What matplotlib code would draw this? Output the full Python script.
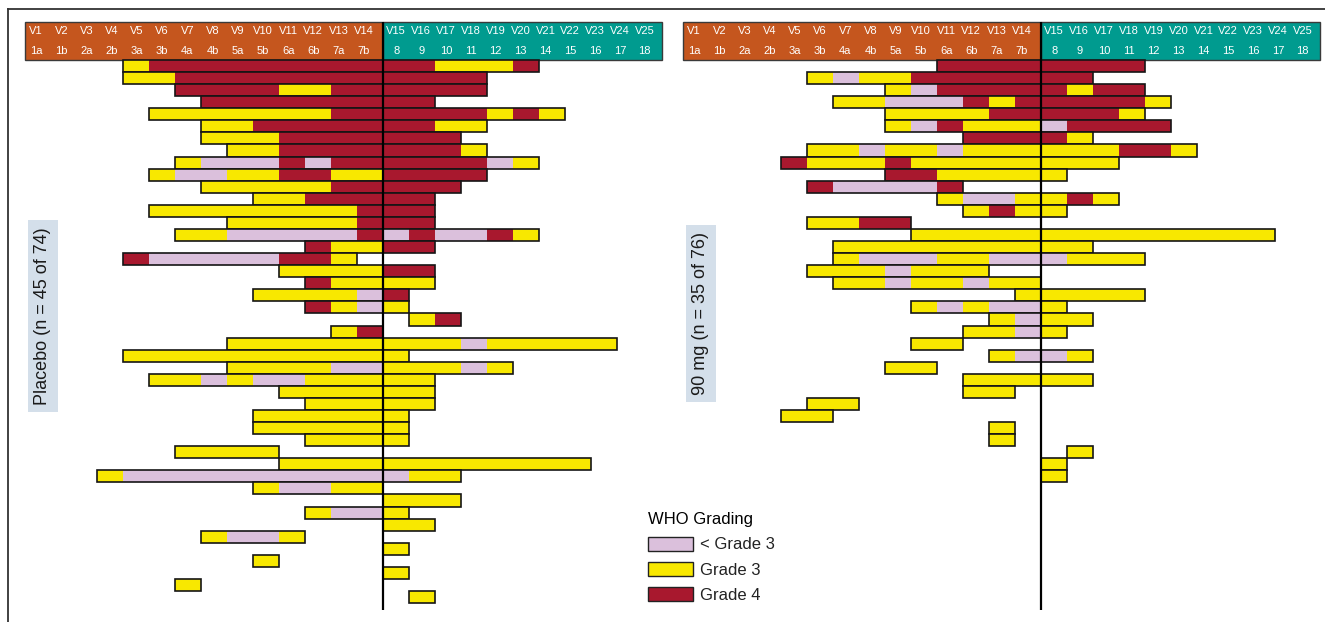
import numpy as np
import matplotlib
matplotlib.use("Agg")
import matplotlib.pyplot as plt
from matplotlib.patches import Rectangle, Patch
from matplotlib.lines import Line2D

plt.rcParams['font.family'] = ['Liberation Sans', 'DejaVu Sans']

# header labels
visits = ['V%d' % i for i in range(1, 26)]
cycles = ['1a', '1b', '2a', '2b', '3a', '3b', '4a', '4b', '5a', '5b', '6a', '6b', '7a', '7b',
          '8', '9', '10', '11', '12', '13', '14', '15', '16', '17', '18']

# WHO grade: 2 = < grade 3, 3 = grade 3, 4 = grade 4
grade_names = {2: '< Grade 3', 3: 'Grade 3', 4: 'Grade 4'}
grade_colors = {2: '#dbc0dc', 3: '#f8e800', 4: '#a8182e'}

# one list of (start, stop, grade) per patient, visits counted from the V14/V15 split
placebo_rows = [
    [(-10, -9, 3), (-9, 2, 4), (2, 5, 3), (5, 6, 4)],
    [(-10, -8, 3), (-8, 4, 4)],
    [(-8, -4, 4), (-4, -2, 3), (-2, 4, 4)],
    [(-7, 2, 4)],
    [(-9, -2, 3), (-2, 4, 4), (4, 5, 3), (5, 6, 4), (6, 7, 3)],
    [(-7, -5, 3), (-5, 2, 4), (2, 4, 3)],
    [(-7, -4, 3), (-4, 3, 4)],
    [(-6, -4, 3), (-4, 3, 4), (3, 4, 3)],
    [(-8, -7, 3), (-7, -4, 2), (-4, -3, 4), (-3, -2, 2), (-2, 4, 4), (4, 5, 2), (5, 6, 3)],
    [(-9, -8, 3), (-8, -6, 2), (-6, -4, 3), (-4, -2, 4), (-2, 0, 3), (0, 4, 4)],
    [(-7, -2, 3), (-2, 3, 4)],
    [(-5, -3, 3), (-3, 2, 4)],
    [(-9, -1, 3), (-1, 2, 4)],
    [(-6, -1, 3), (-1, 2, 4)],
    [(-8, -6, 3), (-6, -1, 2), (-1, 0, 4), (0, 1, 2), (1, 2, 4), (2, 4, 2), (4, 5, 4), (5, 6, 3)],
    [(-3, -2, 4), (-2, 0, 3), (0, 2, 4)],
    [(-10, -9, 4), (-9, -4, 2), (-4, -2, 4), (-2, -1, 3)],
    [(-4, 0, 3), (0, 2, 4)],
    [(-3, -2, 4), (-2, 2, 3)],
    [(-5, -1, 3), (-1, 0, 2), (0, 1, 4)],
    [(-3, -2, 4), (-2, -1, 3), (-1, 0, 2), (0, 1, 3)],
    [(1, 2, 3), (2, 3, 4)],
    [(-2, -1, 3), (-1, 0, 4)],
    [(-6, 3, 3), (3, 4, 2), (4, 9, 3)],
    [(-10, 1, 3)],
    [(-6, -2, 3), (-2, 0, 2), (0, 3, 3), (3, 4, 2), (4, 5, 3)],
    [(-9, -7, 3), (-7, -6, 2), (-6, -5, 3), (-5, -3, 2), (-3, 2, 3)],
    [(-4, 2, 3)],
    [(-3, 2, 3)],
    [(-5, 1, 3)],
    [(-5, 1, 3)],
    [(-3, 1, 3)],
    [(-8, -4, 3)],
    [(-4, 8, 3)],
    [(-11, -10, 3), (-10, 1, 2), (1, 3, 3)],
    [(-5, -4, 3), (-4, -2, 2), (-2, 0, 3)],
    [(0, 3, 3)],
    [(-3, -2, 3), (-2, 0, 2), (0, 1, 3)],
    [(0, 2, 3)],
    [(-7, -6, 3), (-6, -4, 2), (-4, -3, 3)],
    [(0, 1, 3)],
    [(-5, -4, 3)],
    [(0, 1, 3)],
    [(-8, -7, 3)],
    [(1, 2, 3)],
]

dose90_rows = [
    [(-4, 4, 4)],
    [(-9, -8, 3), (-8, -7, 2), (-7, -5, 3), (-5, 2, 4)],
    [(-6, -5, 3), (-5, -4, 2), (-4, 1, 4), (1, 2, 3), (2, 4, 4)],
    [(-8, -6, 3), (-6, -3, 2), (-3, -2, 4), (-2, -1, 3), (-1, 4, 4), (4, 5, 3)],
    [(-6, -2, 3), (-2, 3, 4), (3, 4, 3)],
    [(-6, -5, 3), (-5, -4, 2), (-4, -3, 4), (-3, 0, 3), (0, 1, 2), (1, 5, 4)],
    [(-3, 1, 4), (1, 2, 3)],
    [(-9, -7, 3), (-7, -6, 2), (-6, -4, 3), (-4, -3, 2), (-3, 3, 3), (3, 5, 4), (5, 6, 3)],
    [(-10, -9, 4), (-9, -6, 3), (-6, -5, 4), (-5, 3, 3)],
    [(-6, -4, 4), (-4, 1, 3)],
    [(-9, -8, 4), (-8, -4, 2), (-4, -3, 4)],
    [(-4, -3, 3), (-3, -1, 2), (-1, 1, 3), (1, 2, 4), (2, 3, 3)],
    [(-3, -2, 3), (-2, -1, 4), (-1, 1, 3)],
    [(-9, -7, 3), (-7, -5, 4)],
    [(-5, 9, 3)],
    [(-8, 2, 3)],
    [(-8, -7, 3), (-7, -4, 2), (-4, -2, 3), (-2, 1, 2), (1, 4, 3)],
    [(-9, -6, 3), (-6, -5, 2), (-5, -2, 3)],
    [(-8, -6, 3), (-6, -5, 2), (-5, -3, 3), (-3, -2, 2), (-2, 0, 3)],
    [(-1, 4, 3)],
    [(-5, -4, 3), (-4, -3, 2), (-3, -2, 3), (-2, 0, 2), (0, 1, 3)],
    [(-2, -1, 3), (-1, 0, 2), (0, 2, 3)],
    [(-3, -1, 3), (-1, 0, 2), (0, 1, 3)],
    [(-5, -3, 3)],
    [(-2, -1, 3), (-1, 1, 2), (1, 2, 3)],
    [(-6, -4, 3)],
    [(-3, 2, 3)],
    [(-3, -1, 3)],
    [(-9, -7, 3)],
    [(-10, -8, 3)],
    [(-2, -1, 3)],
    [(-2, -1, 3)],
    [(1, 2, 3)],
    [(0, 1, 3)],
    [(0, 1, 3)],
]

W, H = 1325, 622
fig = plt.figure(figsize=(W / 100, H / 100), dpi=100)

XMIN, XMAX = -13.76, 10.74
YTOP, YBOT = -3.17, 45.57


def draw_panel(x0, rows, label, label_row):
    ax = fig.add_axes([x0 / W, 1 - 610 / H, 637 / W, (610 - 21.7) / H])
    ax.set_xlim(XMIN, XMAX)
    ax.set_ylim(YBOT, YTOP)
    ax.axis('off')

    # header band
    ax.add_patch(Rectangle((XMIN, YTOP), -XMIN, -YTOP, fc='#c5561e', ec='#3a3a3a', lw=1, clip_on=False))
    ax.add_patch(Rectangle((0, YTOP), XMAX, -YTOP, fc='#009b8f', ec='#3a3a3a', lw=1, clip_on=False))
    xs = list(np.linspace(-13.33, -0.73, 14)) + list(np.linspace(0.52, 10.08, 11))
    for x, v, c in zip(xs, visits, cycles):
        ax.text(x, -2.43, v, color='white', ha='center', va='center', fontsize=8)
        ax.text(x, -0.77, c, color='white', ha='center', va='center', fontsize=8)

    for i, segs in enumerate(rows):
        for a, b, g in segs:
            ax.barh(i + 0.5, b - a, left=a, height=1, color=grade_colors[g], lw=0)
        lo = min(s[0] for s in segs)
        hi = max(s[1] for s in segs)
        ax.barh(i + 0.5, hi - lo, left=lo, height=1, fill=False, edgecolor='#151515', lw=1.2)

    ax.axvline(0, color='black', lw=1.6)

    ax.text(-13.07, label_row, label, rotation=90, ha='center', va='center', fontsize=13,
            color='#1a1a1a', bbox=dict(boxstyle='square,pad=0.38', fc='#d4dfea', ec='none'))
    return ax


draw_panel(25, placebo_rows, 'Placebo (n = 45 of 74)', 21.2)
draw_panel(683, dose90_rows, '90 mg (n = 35 of 76)', 21.0)

# figure frame (top and left only)
fig.add_artist(Line2D([8 / W, 1], [1 - 9 / H, 1 - 9 / H], transform=fig.transFigure, color='#333333', lw=1.3))
fig.add_artist(Line2D([8 / W, 8 / W], [0, 1 - 9 / H], transform=fig.transFigure, color='#333333', lw=1.3))

handles = [Patch(facecolor=grade_colors[g], edgecolor='#222222', lw=1) for g in (2, 3, 4)]
fig.legend(handles, [grade_names[g] for g in (2, 3, 4)], title='WHO Grading',
           loc='upper left', bbox_to_anchor=(648 / W, 1 - 512 / H), frameon=False,
           fontsize=12, title_fontsize=12, handlelength=2.7, handleheight=0.9,
           handletextpad=0.45, labelspacing=0.58, borderpad=0, borderaxespad=0,
           alignment='left', labelcolor='#222222')

fig.savefig('out.png', dpi=100)
